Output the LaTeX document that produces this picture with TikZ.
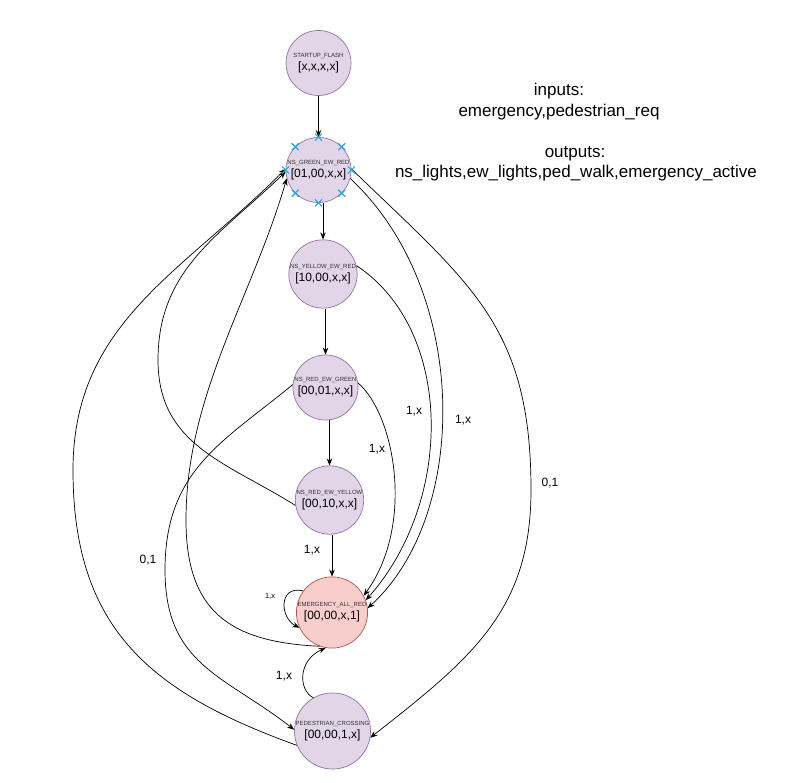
\documentclass[tikz,border=0pt]{standalone}
\usepackage{fontspec}
\setmainfont{Liberation Sans}
\usetikzlibrary{arrows.meta}

\definecolor{stfill}{HTML}{E1D5E7}
\definecolor{stline}{HTML}{9673A6}
\definecolor{emfill}{HTML}{F8CECC}
\definecolor{emline}{HTML}{B85450}
\definecolor{handle}{HTML}{29A8E0}
\definecolor{captxt}{HTML}{333333}

\tikzset{
  state/.style={circle, draw=stline, fill=stfill, line width=0.7pt,
    minimum size=65pt, inner sep=0pt, align=center},
  alarm/.style={state, draw=emline, fill=emfill},
  edge/.style={draw=black, line width=0.7pt, -{Stealth[length=7pt,width=5.5pt]}},
  lbl/.style={font=\fontsize{12}{14}\selectfont, inner sep=0pt},
  tinylbl/.style={font=\fontsize{7.5}{9}\selectfont, inner sep=0pt},
  note/.style={font=\fontsize{17}{20}\selectfont, inner sep=0pt, anchor=base},
  handlemark/.style={draw=handle, line width=1.1pt},
}
\newcommand{\statetext}[2]{{\fontsize{6}{7}\selectfont\color{captxt}#1}\\[1pt]{\fontsize{12}{13}\selectfont #2}}

\begin{document}
\begin{tikzpicture}[x=1pt,y=-1pt]
  \useasboundingbox[fill=white] (0,0) rectangle (798,783);

  % states of the controller
  \node[state] (S0) at (318.5,63)   {\statetext{STARTUP\_FLASH}{[x,x,x,x]}};
  \node[state] (S1) at (318.5,170)  {\statetext{NS\_GREEN\_EW\_RED}{[01,00,x,x]}};
  \node[state] (S2) at (323,274)    {\statetext{NS\_YELLOW\_EW\_RED}{[10,00,x,x]}};
  \node[state] (S3) at (325.5,387.5){\statetext{NS\_RED\_EW\_GREEN}{[00,01,x,x]}};
  \node[state] (S4) at (329.5,500)  {\statetext{NS\_RED\_EW\_YELLOW}{[00,10,x,x]}};
  \node[alarm] (S5) at (332,612.5)  {\statetext{EMERGENCY\_ALL\_RED}{[00,00,x,1]}};
  \node[state] (S6) at (332.5,731)  {\statetext{PEDESTRIAN\_CROSSING}{[00,00,1,x]}};

  % main sequence
  \draw[edge] (S0.south) -- (S1.north);
  \draw[edge] (S1.south -| S2.north) -- (S2.north);
  \draw[edge] (S2.south -| S3.north) -- (S3.north);
  \draw[edge] (S3.south -| S4.north) -- (S4.north);
  \draw[edge] (S4.south -| S5.north) -- (S5.north);

  % returns to NS_GREEN_EW_RED on the left
  \draw[edge] (S6.202) .. controls (152,693) and (73,630) .. (73,470)
                       .. controls (73,323) and (182,273) .. (S1.178);
  \draw[edge] (S4.189) .. controls (226,462) and (158,445) .. (158,360)
                       .. controls (158,269) and (220,235) .. (S1.183);
  \draw[edge] (S5.250) .. controls (228,642) and (186,610) .. (186,520)
                       .. controls (186,395) and (251.6,298.5) .. (S1.195);

  % pedestrian request from NS_RED_EW_GREEN
  \draw[edge] (S3.175) .. controls (223,442) and (165,470) .. (165,570)
                       .. controls (165,665) and (224,675) .. (S6.178);

  % pedestrian request from NS_GREEN_EW_RED on the right
  \draw[edge] (S1.2) .. controls (470,284) and (531,325) .. (531,490)
                     .. controls (531,610) and (472.5,657.6) .. (S6.350);

  % emergency transitions on the right
  \draw[edge] (S1.345) .. controls (470,290) and (470,515) .. (S5.7);
  \draw[edge] (S2.14) .. controls (454,330) and (454,501) .. (S5.20);
  \draw[edge] (S3.8) .. controls (395,415) and (415,525) .. (S5.28);

  % emergency self loop and pedestrian escape
  \draw[edge] (S5.143) .. controls (278,585) and (280,618) .. (S5.205);
  \draw[edge] (S6.120) .. controls (298,690) and (298,660) .. (S5.260);

  % transition labels
  \node[lbl] (l45) at (312,550) {1,x};
  \node[lbl] (lF) at (463,420) {1,x};
  \node[lbl] (lG) at (414,411) {1,x};
  \node[lbl] (lH) at (377,449) {1,x};
  \node[lbl] (l65) at (284,676) {1,x};
  \node[tinylbl] (lloop) at (270,596) {1,x};
  \node[lbl] (lE) at (550,483) {0,1};
  \node[lbl] (lD) at (148,560) {0,1};

  % interface description
  \node[note] (in1) at (559,96) {inputs:};
  \node[note] (in2) at (559,116.5) {emergency,pedestrian\_req};
  \node[note] (out1) at (575,157.5) {outputs:};
  \node[note] (out2) at (576,178) {ns\_lights,ew\_lights,ped\_walk,emergency\_active};

  % connection handles around the selected state
  \foreach \a in {0,45,...,315} {
    \draw[handlemark] ([shift={(-3.5pt,-3.5pt)}]S1.\a) -- ([shift={(3.5pt,3.5pt)}]S1.\a);
    \draw[handlemark] ([shift={(-3.5pt,3.5pt)}]S1.\a) -- ([shift={(3.5pt,-3.5pt)}]S1.\a);
  }
\end{tikzpicture}
\end{document}
